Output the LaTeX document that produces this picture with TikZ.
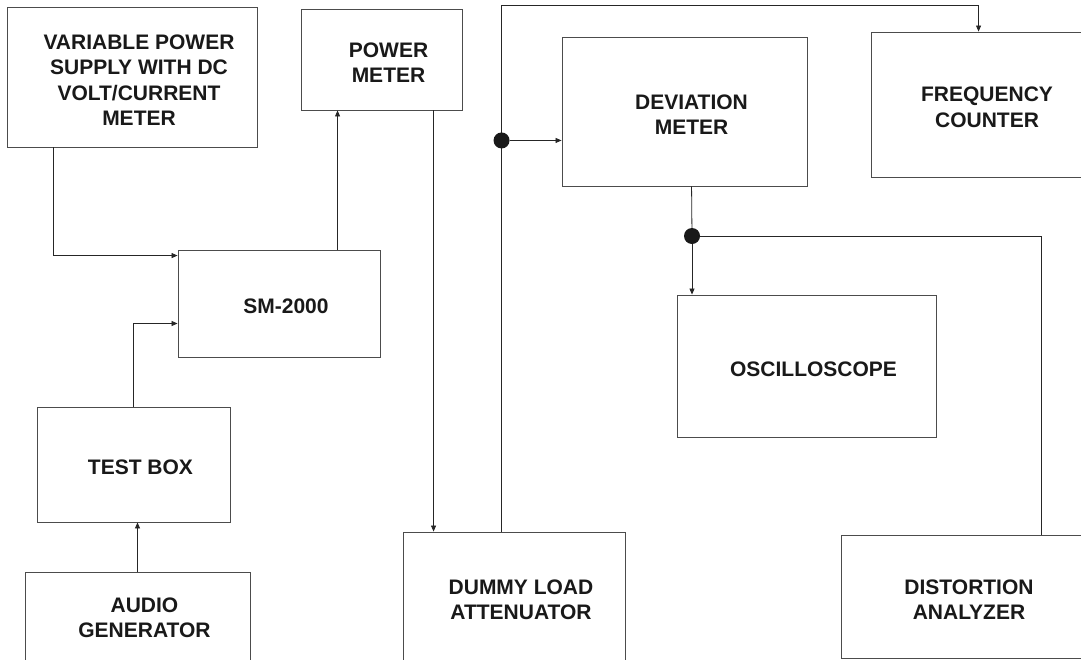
\documentclass[tikz,border=0pt]{standalone}
\usepackage{fontspec}
\setmainfont{Liberation Sans}
\usetikzlibrary{arrows.meta,calc}
\tikzstyle{block} = [rectangle, draw=black!70, line width=0.9pt, inner sep=0pt]
\tikzstyle{caption} = [text=black!90, align=center, inner sep=0pt, xshift=7pt, yshift=-3pt, font=\bfseries\fontsize{21}{25.5}\selectfont]
\tikzstyle{arrow} = [line width=0.8pt, draw=black!85, -{Triangle[length=6pt,width=5pt]}]
\tikzstyle{wire} = [line width=0.8pt, draw=black!85]
\tikzstyle{junction} = [circle, fill=black!90, minimum size=16pt, inner sep=0pt]

\begin{document}
\begin{tikzpicture}[x=1pt, y=-1pt]

\clip (0,0) rectangle (1081,659);
\fill[white] (0,0) rectangle (1081,659);

\node (vps) [block, minimum width=250pt, minimum height=140pt, label={[caption, name=vpstext]center:{VARIABLE POWER\\SUPPLY WITH DC\\VOLT/CURRENT\\METER}}] at (132,77) {};
\node (pm) [block, minimum width=161pt, minimum height=101pt, label={[caption, name=pmtext]center:{POWER\\METER}}] at (381.5,59.5) {};
\node (dev) [block, minimum width=245pt, minimum height=149pt, label={[caption, name=devtext]center:{DEVIATION\\METER}}] at (684.5,111.5) {};
\node (fc) [block, minimum width=218pt, minimum height=145pt, label={[caption, name=fctext]center:{FREQUENCY\\COUNTER}}] at (980,104.5) {};
\node (sm) [block, minimum width=202pt, minimum height=107pt, label={[caption, name=smtext]center:SM-2000}] at (279,303.5) {};
\node (tb) [block, minimum width=193pt, minimum height=115pt, label={[caption, name=tbtext]center:TEST BOX}] at (133.5,464.5) {};
\node (ag) [block, minimum width=225pt, minimum height=92pt, label={[caption, yshift=3pt, name=agtext]center:{AUDIO\\GENERATOR}}] at (137.5,618) {};
\node (osc) [block, minimum width=259pt, minimum height=142pt, label={[caption, name=osctext]center:OSCILLOSCOPE}] at (806.5,366) {};
\node (dla) [block, minimum width=222pt, minimum height=136pt, label={[caption, yshift=3pt, name=dlatext]center:{DUMMY LOAD\\ATTENUATOR}}] at (514,600) {};
\node (da) [block, minimum width=242pt, minimum height=123pt, label={[caption, name=datext]center:{DISTORTION\\ANALYZER}}] at (962,596.5) {};

% connection points
\coordinate (vpsout) at ([xshift=47pt]vps.south west);
\coordinate (smin1) at ([yshift=-6pt]sm.north west);
\coordinate (smin2) at ([yshift=-20pt]sm.west);
\coordinate (smout) at ([xshift=160pt]sm.north west);
\coordinate (pmout) at ([xshift=133pt]pm.south west);
\coordinate (dlaout) at ([xshift=99pt]dla.north west);
\coordinate (fcin) at ([xshift=108pt]fc.north west);
\coordinate (devin) at ([yshift=46pt]dev.south west);
\coordinate (devout) at ([xshift=130pt]dev.south west);
\coordinate (dain) at ([xshift=201pt]da.north west);

\draw [arrow] (vpsout) |- (smin1);
\draw [arrow] (tb.north) |- (smin2);
\draw [arrow] (ag.north) -- (ag.north |- tb.south);
\draw [arrow] (smout) -- (smout |- pm.south);
\draw [arrow] (pmout) -- (pmout |- dla.north);
\draw [arrow] (dlaout) |- ([yshift=26pt]fcin) -- (fcin);

\node (j1) [junction] at (dlaout |- devin) {};
\draw [arrow] (j1) -- (devin);

\node (j2) [junction] at (692,236) {};
\draw [wire] (devout) -- (j2);
\draw [arrow] (j2) -- (j2 |- osc.north);
\draw [wire] (j2) -| (dain);

\end{tikzpicture}
\end{document}
